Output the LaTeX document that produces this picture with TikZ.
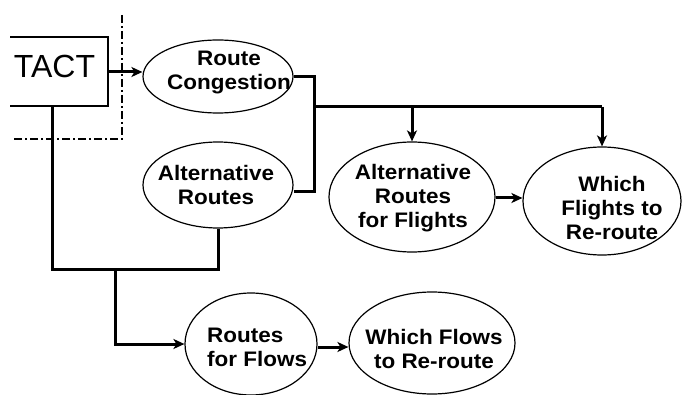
\documentclass[tikz,border=0pt]{standalone}
\usepackage{fontspec}
\setmainfont{Liberation Sans}
\newfontfamily\lblfont{Liberation Sans}[FakeStretch=1.07]
\usetikzlibrary{shapes.geometric,arrows.meta}
\begin{document}
\begin{tikzpicture}[x=1pt,y=-1pt,
  oval/.style={draw,ellipse,line width=1.2pt,inner sep=0pt},
  lbl/.style={inner sep=0pt,align=center,font=\lblfont\bfseries\fontsize{21}{24}\selectfont},
  conn/.style={line width=3pt},
  arr/.style={line width=3pt,-{Stealth[length=11pt,width=10pt,inset=3pt]}},
  dashdot/.style={line width=1.1pt,dash pattern=on 8pt off 3pt on 2pt off 3pt}]
\useasboundingbox (0,0) rectangle (682,395);
% dash-dot boundary
\draw[dashdot] (122,15) -- (122,139) -- (12,139);
% TACT box (open on the left)
\draw[line width=1.4pt] (10,37) -- (108,37) -- (108,106) -- (10,106);
\node[inner sep=0pt,font=\fontsize{32}{36}\selectfont] (tact) at (54.5,66.5) {TACT};
\coordinate (tactE) at (108,72);
\coordinate (tactS) at (52,106);
% ellipses
\node[oval,minimum width=150pt,minimum height=73pt] (rc) at (218,76.5) {};
\node[oval,minimum width=150pt,minimum height=86pt] (ar) at (218,185) {};
\node[oval,minimum width=166pt,minimum height=110pt] (arf) at (412,197) {};
\node[oval,minimum width=158pt,minimum height=108pt] (wf) at (602,201) {};
\node[oval,minimum width=132pt,minimum height=102pt] (rf) at (251,344) {};
\node[oval,minimum width=166pt,minimum height=102pt] (wfl) at (432,343) {};
% labels
\node[lbl] (rcT) at (229,73) {Route\\Congestion};
\node[lbl] (arT) at (216,185) {Alternative\\Routes};
\node[lbl] (arfT) at (413,198.5) {Alternative\\Routes\\for Flights};
\node[lbl] (wfT) at (612,207.5) {Which\\Flights to\\Re-route};
\node[lbl,align=left,anchor=west] (rfT) at (207,347.5) {Routes\\for Flows};
\node[lbl] (wflT) at (434,349) {Which Flows\\to Re-route};
% junction coordinates
\coordinate (jtop) at (314,76.5);
\coordinate (jbot) at (314,192);
\coordinate (jb) at (314,107);
\coordinate (jr) at (602,107);
\coordinate (jlow) at (52,269);
\coordinate (jmid) at (115,269);
% connectors
\draw[arr] (tactE) -- (tactE -| rc.west);
\draw[conn] (rc.east) -- (jtop) -- (jbot) -- (jbot -| ar.east);
\draw[conn] (jb) -- (jr);
\draw[arr] (jb -| arf.north) -- (arf.north);
\draw[arr] (jr) -- (wf.north);
\draw[arr] (arf.east |- 0,198) -- (wf.west |- 0,198);
\draw[conn] (tactS) -- (jlow) -- (jlow -| ar.south) -- (ar.south);
\draw[arr] (jmid) |- (rf.west);
\draw[arr] (rf.east |- 0,347) -- (wfl.west |- 0,347);
\end{tikzpicture}
\end{document}
